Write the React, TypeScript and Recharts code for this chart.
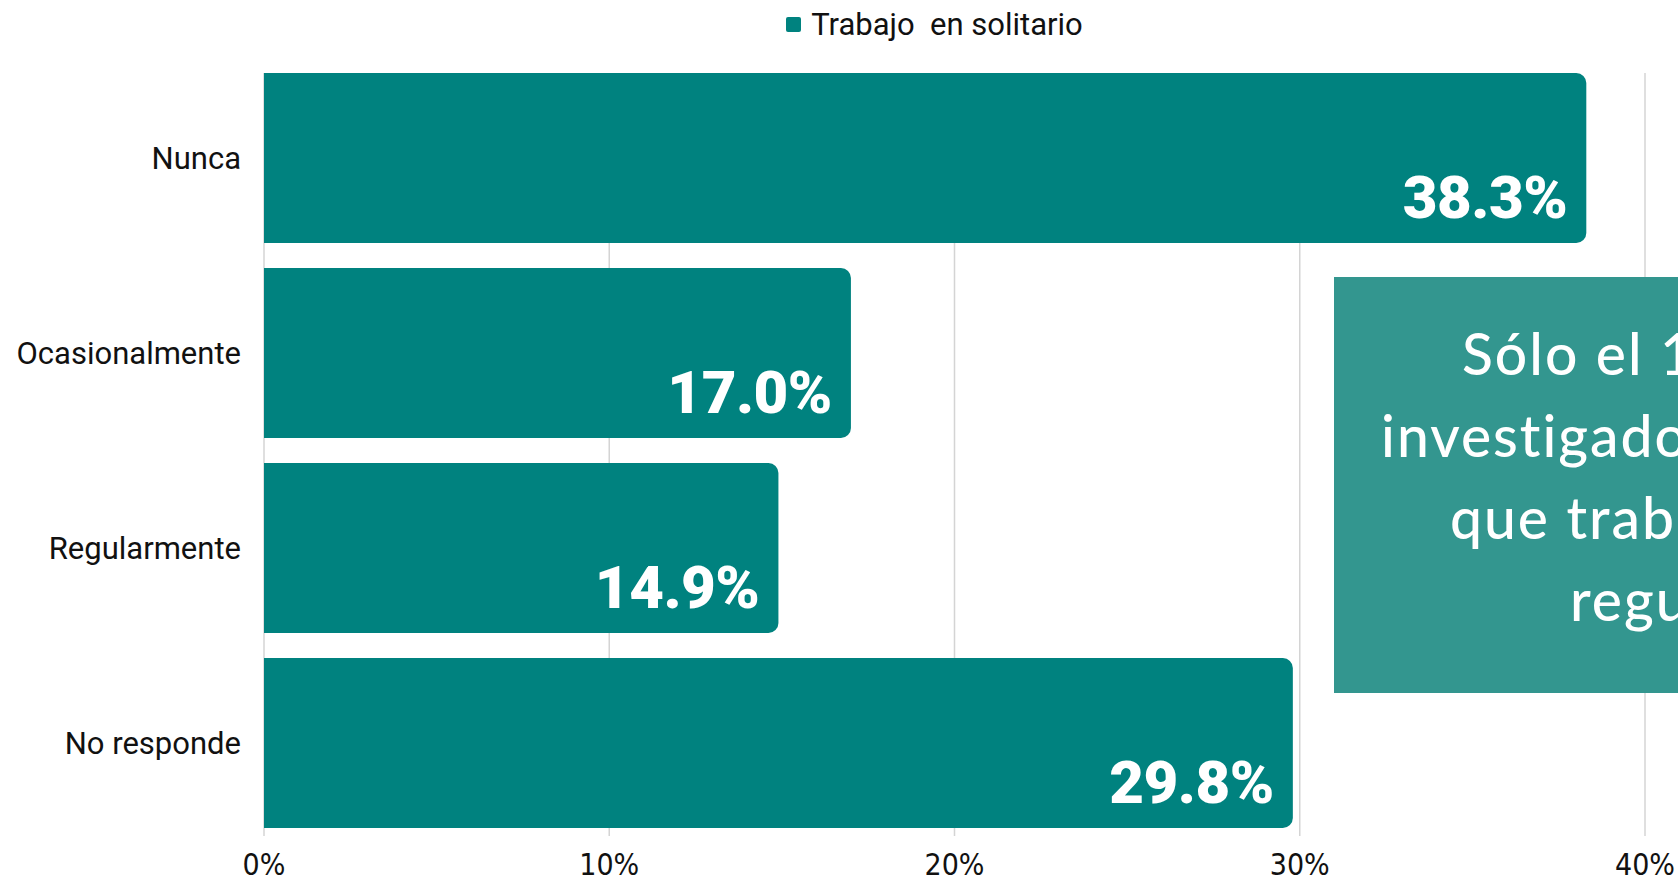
import React from 'react';
import { BarChart, Bar, XAxis, YAxis, CartesianGrid, Legend, LabelList, Customized } from 'recharts';

const categories = ['Nunca', 'Ocasionalmente', 'Regularmente', 'No responde'];
const values = [38.3, 17.0, 14.9, 29.8];
const xTicks = [0, 10, 20, 30, 40];
const seriesName = 'Trabajo  en solitario';
const noteLines = ['Sólo el 1', 'investigado', 'que trab', 'regu'];

const data = categories.map((c, i) => ({ cat: c, v: values[i] }));

const BAR = '#00827F';
const BOX = '#33968F';

const LegendContent = () => (
  <div style={{ height: 56, display: 'flex', justifyContent: 'center', alignItems: 'flex-start' }}>
    <div style={{ display: 'flex', alignItems: 'center', height: 40, paddingLeft: 224 }}>
      <span style={{ width: 15, height: 15, background: BAR, borderRadius: 2, display: 'inline-block', marginRight: 10 }} />
      <span style={{ fontFamily: 'Roboto, sans-serif', fontSize: 31, color: '#111', whiteSpace: 'pre' }}>{seriesName}</span>
    </div>
  </div>
);

const ValueLabel = (props: any) => {
  const { x, y, width, height, value, index } = props;
  const id = `lbl-clip-${index}`;
  return (
    <g>
      <defs>
        <clipPath id={id}>
          <rect x={x} y={y} width={width} height={height} />
        </clipPath>
      </defs>
      <text
        x={x + width - 19}
        y={y + height - 25}
        textAnchor="end"
        fill="#fff"
        clipPath={`url(#${id})`}
        style={{ fontFamily: 'Roboto, sans-serif', fontWeight: 900, fontSize: 60, letterSpacing: -0.5 }}
      >
        {`${Number(value).toFixed(1)}%`}
      </text>
    </g>
  );
};

const Note = () => (
  <g>
    <rect x={1334} y={277} width={400} height={416} fill={BOX} />
    {noteLines.map((t, i) => (
      <text
        key={i}
        x={[1462, 1381, 1450, 1570][i]}
        y={375 + i * 82}
        fill="#fff"
        style={{ fontFamily: 'Lato, sans-serif', fontWeight: 500, fontSize: 57, letterSpacing: 2 }}
      >
        {t}
      </text>
    ))}
  </g>
);

const GridLine = (props: any) => {
  const { x1, x2, y1, y2 } = props;
  return <line x1={x1} x2={x2} y1={y1 + 13} y2={y2 - 4} stroke="#d4d4d4" strokeWidth={1.5} />;
};

export default function App() {
  return (
    <div style={{ position: 'absolute', left: 0, top: 0, width: 1678, height: 880, background: '#fff' }}>
      <BarChart
        width={1678}
        height={880}
        data={data}
        layout="vertical"
        margin={{ top: 4, right: 33, bottom: 0, left: 0 }}
        barSize={170}
      >
        <CartesianGrid horizontal={false} vertical={GridLine as any} />
        <Legend verticalAlign="top" align="center" content={<LegendContent />} />
        <XAxis
          type="number"
          domain={[0, 40]}
          ticks={xTicks}
          tickFormatter={(v: number) => `${v}%`}
          axisLine={false}
          tickLine={false}
          height={40}
          tickMargin={8}
          interval={0}
          tick={{ fill: '#111', fontSize: 30, fontFamily: "'Liberation Sans Narrow', 'DejaVu Sans Condensed', sans-serif" }}
        />
        <YAxis
          type="category"
          dataKey="cat"
          width={264}
          axisLine={false}
          tickLine={false}
          tickMargin={17}
          tick={{ fill: '#111', fontSize: 31, fontFamily: 'Roboto, sans-serif' }}
        />
        <Bar dataKey="v" name={seriesName} fill={BAR} radius={[0, 10, 10, 0]} isAnimationActive={false}>
          <LabelList dataKey="v" content={<ValueLabel />} />
        </Bar>
        <Customized component={Note} />
      </BarChart>
    </div>
  );
}
